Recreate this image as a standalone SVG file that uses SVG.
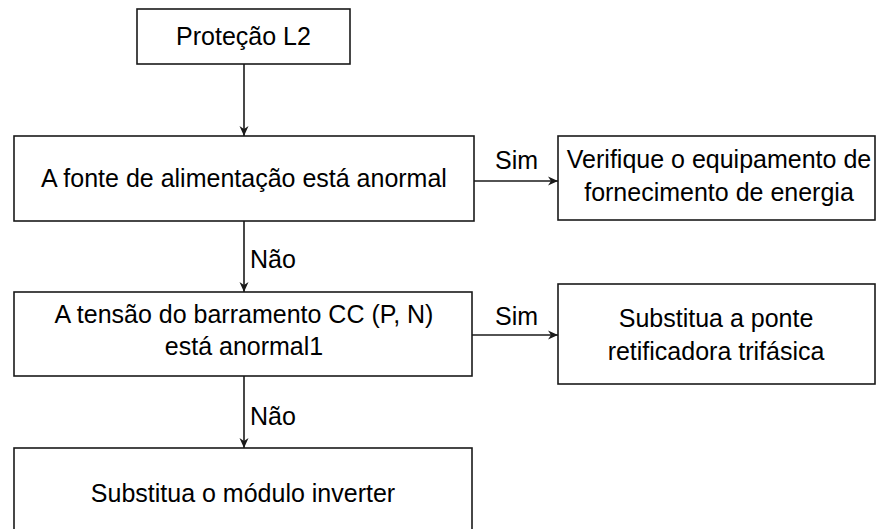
<svg xmlns="http://www.w3.org/2000/svg" width="876" height="529" viewBox="0 0 876 529">
<style>
.box{fill:#fff;stroke:#1a1a1a;stroke-width:1.6}
.t{font-family:"Liberation Sans",Arial,sans-serif;font-size:25px;fill:#000;text-anchor:middle}
.l{font-family:"Liberation Sans",Arial,sans-serif;font-size:25px;fill:#000}
.c{stroke:#1a1a1a;stroke-width:1.6;fill:none;marker-end:url(#ah)}
</style>
<defs>
<marker id="ah" viewBox="0 0 10 10" refX="10" refY="5" markerWidth="10" markerHeight="10" markerUnits="userSpaceOnUse" orient="auto">
<path d="M0,0.5 L10,5 L0,9.5 L3,5 Z" fill="#1a1a1a"/>
</marker>
</defs>
<rect width="876" height="529" fill="#fff"/>
<g id="connectors">
<line class="c" x1="244" y1="64" x2="244" y2="136"/>
<line class="c" x1="244" y1="221" x2="244" y2="292"/>
<line class="c" x1="244" y1="376" x2="244" y2="448"/>
<line class="c" x1="474" y1="181" x2="558" y2="181"/>
<line class="c" x1="472" y1="335" x2="558" y2="335"/>
<text class="l" x="495" y="169">Sim</text>
<text class="l" x="495" y="325">Sim</text>
<text class="l" x="250" y="268">Não</text>
<text class="l" x="250" y="425">Não</text>
</g>
<g id="n1">
<rect class="box" x="137" y="9" width="213" height="55"/>
<text class="t" x="243.5" y="45">Proteção L2</text>
</g>
<g id="n2">
<rect class="box" x="14" y="136" width="460" height="85"/>
<text class="t" x="244" y="187">A fonte de alimentação está anormal</text>
</g>
<g id="n3">
<rect class="box" x="558" y="136" width="317" height="84"/>
<text class="t" x="719" y="168">Verifique o equipamento de</text>
<text class="t" x="719" y="201">fornecimento de energia</text>
</g>
<g id="n4">
<rect class="box" x="14" y="292" width="458" height="84"/>
<text class="t" x="244" y="323">A tensão do barramento CC (P, N)</text>
<text class="t" x="244" y="355">está anormal1</text>
</g>
<g id="n5">
<rect class="box" x="558" y="284" width="317" height="100"/>
<text class="t" x="716" y="327">Substitua a ponte</text>
<text class="t" x="716" y="360">retificadora trifásica</text>
</g>
<g id="n6">
<rect class="box" x="14" y="448" width="458" height="100"/>
<text class="t" x="243" y="502">Substitua o módulo inverter</text>
</g>
</svg>
